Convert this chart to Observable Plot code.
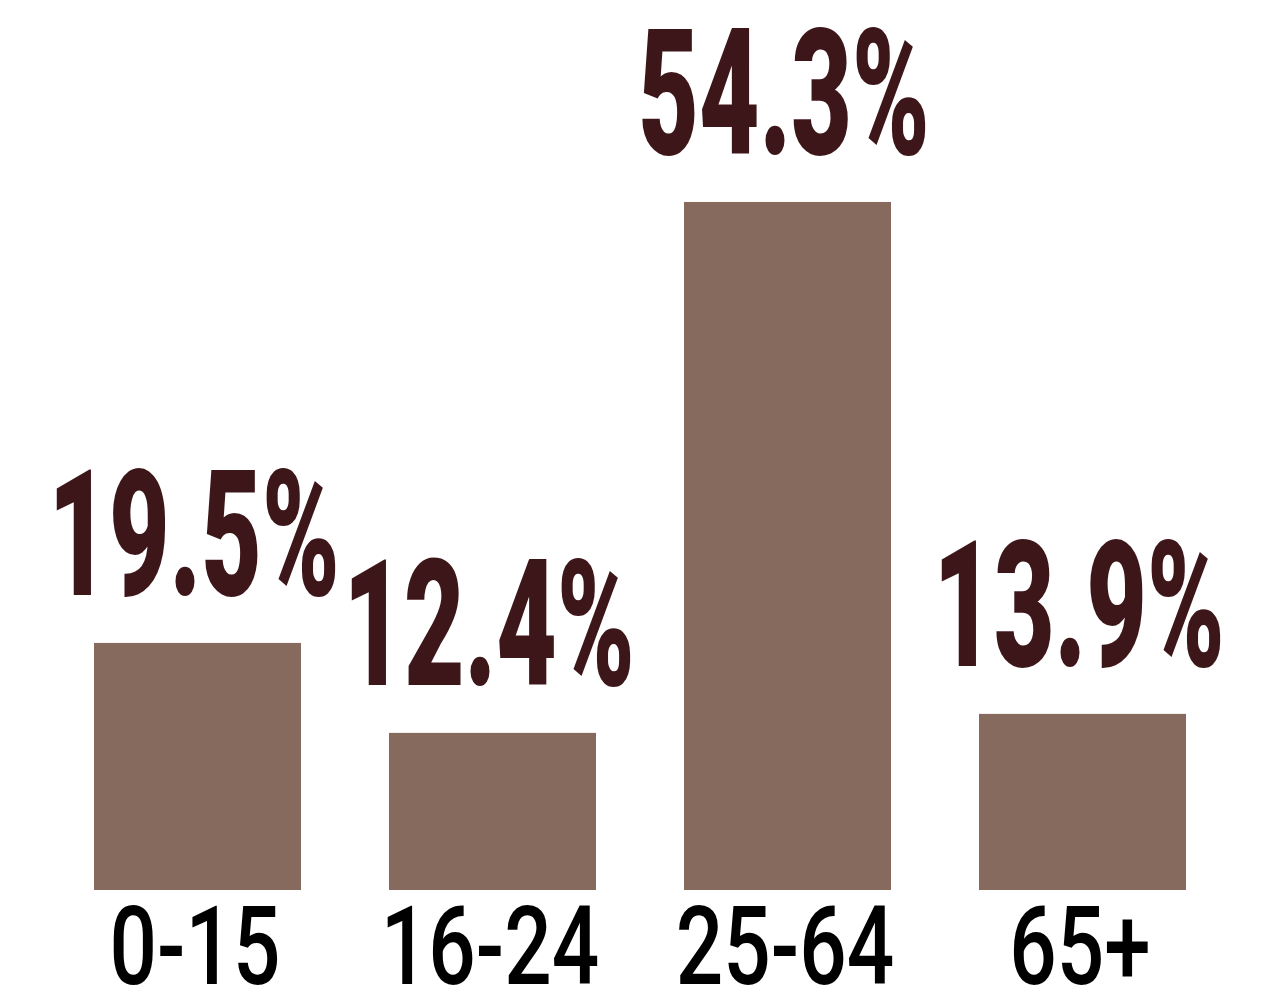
<!DOCTYPE html>
<html>
<head>
<meta charset="utf-8">
<script src="https://cdn.jsdelivr.net/npm/d3@7"></script>
<script src="https://cdn.jsdelivr.net/npm/@observablehq/plot@0.6"></script>
<style>
  html, body { margin: 0; padding: 0; background: #fff; }
  #chart { width: 1268px; height: 995px; overflow: hidden; }
</style>
</head>
<body>
<div id="chart"></div>
<script>
const ageGroups = ["0-15", "16-24", "25-64", "65+"];
const shares = [19.5, 12.4, 54.3, 13.9];
const valueLabels = ["19.5%", "12.4%", "54.3%", "13.9%"];

const data = ageGroups.map((g, i) => ({group: g, share: shares[i], label: valueLabels[i]}));

const chart = Plot.plot({
  width: 1268,
  height: 995,
  marginLeft: 93,
  marginRight: 82,
  marginTop: 0,
  marginBottom: 105,
  style: {background: "#fff", fontFamily: "Roboto, sans-serif", overflow: "visible"},
  x: {domain: ageGroups, paddingInner: 0.3, paddingOuter: 0, axis: null},
  y: {domain: [0, 70.24], axis: null},
  marks: [
    Plot.barY(data, {x: "group", y: "share", fill: "#866a5e"}),
    Plot.text(data, {
      x: "group", y: "share", text: "label",
      lineAnchor: "bottom", dy: -48, dx: -4,
      fontSize: 176, fontWeight: 900, fill: "#3d161a",
      className: "vlabel"
    }),
    Plot.text(data, {
      x: "group", y: () => 0, text: "group",
      lineAnchor: "bottom", dy: 93, dx: -3,
      fontSize: 110, fontWeight: 500, fill: "#000",
      className: "glabel"
    })
  ]
});
document.getElementById("chart").appendChild(chart);

function squeeze(sel, k) {
  chart.querySelectorAll(sel + " text").forEach(t => {
    const tr = t.getAttribute("transform") || "";
    t.setAttribute("transform", tr + ` scale(${k},1)`);
  });
}
squeeze(".vlabel", 0.595);
squeeze(".glabel", 0.76);
</script>
</body>
</html>
